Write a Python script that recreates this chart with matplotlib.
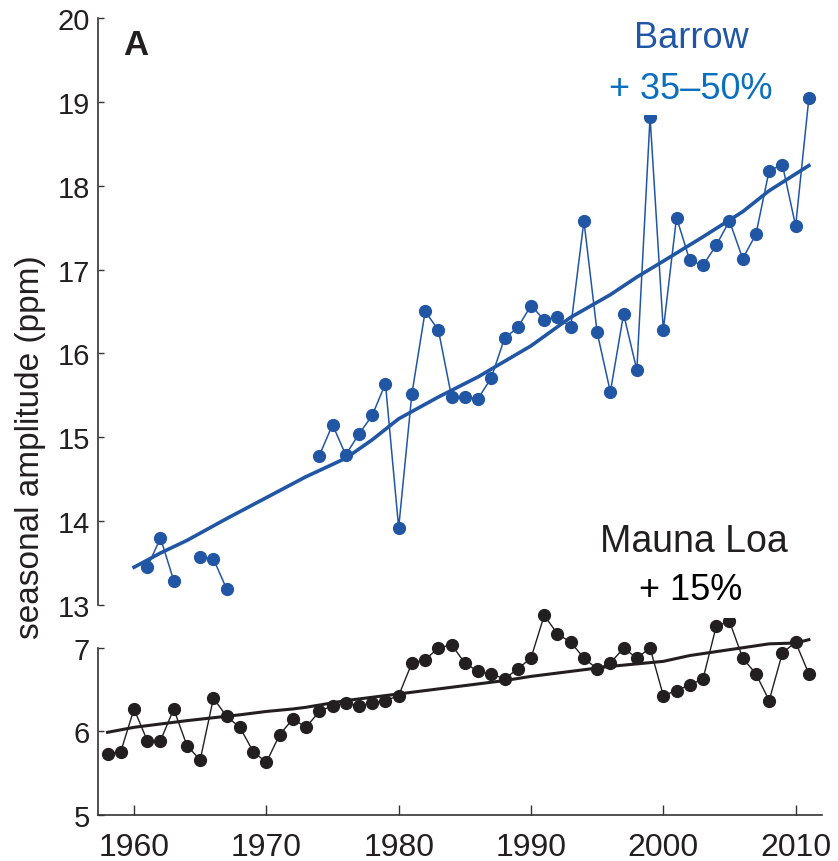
import matplotlib.pyplot as plt
import numpy as np

plt.rcParams['font.family'] = ['Liberation Sans', 'DejaVu Sans']

# Barrow seasonal amplitude (ppm), gaps are missing years
barrow_years = list(range(1961, 2012))
barrow_vals = [13.45, 13.80, 13.29, np.nan, 13.57, 13.55, 13.19,
               np.nan, np.nan, np.nan, np.nan, np.nan, np.nan,
               14.78, 15.15, 14.79, 15.04, 15.26, 15.64, 13.92,
               15.52, 16.50, 16.28, 15.48, 15.48, 15.46, 15.71, 16.18, 16.31, 16.57,
               16.40, 16.44, 16.31, 17.58, 16.25, 15.54, 16.47, 15.80, 18.82, 16.28,
               17.62, 17.11, 17.05, 17.29, 17.58, 17.13, 17.42, 18.18, 18.25, 17.52,
               19.04]
barrow_trend_years = [1960, 1962, 1964, 1967, 1970, 1973, 1976, 1978, 1980, 1983,
                      1986, 1990, 1993, 1996, 1998, 2000, 2003, 2006, 2008, 2011]
barrow_trend = [13.45, 13.62, 13.77, 14.03, 14.28, 14.53, 14.75, 14.97, 15.22, 15.48,
                15.72, 16.09, 16.43, 16.70, 16.91, 17.10, 17.39, 17.69, 17.94, 18.24]

# Mauna Loa seasonal amplitude (ppm)
mlo_years = list(range(1958, 2012))
mlo_vals = [5.73, 5.76, 6.27, 5.89, 5.89, 6.27, 5.83, 5.66, 6.40, 6.18,
            6.05, 5.76, 5.63, 5.96, 6.15, 6.05, 6.24, 6.31, 6.34, 6.31,
            6.34, 6.37, 6.43, 6.82, 6.86, 7.00, 7.04, 6.82, 6.72, 6.69,
            6.63, 6.75, 6.88, 7.39, 7.17, 7.07, 6.88, 6.75, 6.82, 7.00,
            6.88, 7.00, 6.43, 6.49, 6.56, 6.63, 7.26, 7.32, 6.88, 6.69,
            6.37, 6.94, 7.07, 6.69]
mlo_trend_years = [1958, 1960, 1964, 1968, 1970, 1972, 1973, 1976, 1980, 1981,
                   1984, 1988, 1990, 1993, 1996, 2000, 2002, 2005, 2008, 2010, 2011]
mlo_trend = [5.99, 6.05, 6.13, 6.20, 6.24, 6.27, 6.29, 6.37, 6.45, 6.47,
             6.53, 6.61, 6.66, 6.72, 6.78, 6.84, 6.91, 6.98, 7.05, 7.06, 7.10]

blue = '#2156a5'
light_blue = '#0b6fbf'
black = '#231f20'
axcol = '#333333'

fig = plt.figure(figsize=(8.38, 8.62), dpi=100)
ax_top = fig.add_axes([0.117, 0.297, 0.864, 0.681])
ax_bot = fig.add_axes([0.117, 0.0534, 0.864, 0.2421])

xlim = (1957.28, 2012.0)

# upper panel: Barrow
ax_top.plot(barrow_years, barrow_vals, color=blue, lw=1.1, marker='o', ms=8.5,
            mec=blue, mfc=blue, clip_on=False)
ax_top.plot(barrow_trend_years, barrow_trend, color=blue, lw=2.6, clip_on=False)
ax_top.set_xlim(xlim)
ax_top.set_ylim(13, 20)
ax_top.set_yticks(range(13, 21))
for s in ['top', 'right', 'bottom']:
    ax_top.spines[s].set_visible(False)
ax_top.spines['left'].set_color(axcol)
ax_top.spines['left'].set_linewidth(1.2)
ax_top.set_xticks([])
ax_top.tick_params(axis='y', direction='in', length=4, width=1, colors=axcol,
                   labelsize=21, labelcolor=black, pad=6)
ax_top.patch.set_alpha(0)

ax_top.text(1959.17, 19.57, 'A', fontsize=25, fontweight='bold', color=black,
            ha='left', va='baseline')
ax_top.text(2002.1, 19.65, 'Barrow', fontsize=26, color=blue, ha='center', va='baseline')
ax_top.text(2002.1, 19.05, '+ 35\u201350%', fontsize=26, color=light_blue,
            ha='center', va='baseline', zorder=5,
            bbox=dict(boxstyle='square,pad=0.25', fc='white', ec='none'))

# lower panel: Mauna Loa
ax_bot.plot(mlo_years, mlo_vals, color=black, lw=1.0, marker='o', ms=8.5,
            mec=black, mfc=black, clip_on=False)
ax_bot.plot(mlo_trend_years, mlo_trend, color=black, lw=2.2, clip_on=False)
ax_bot.set_xlim(xlim)
ax_bot.set_ylim(5, 7.5)
ax_bot.set_yticks([5, 6, 7])
ax_bot.set_xticks(range(1960, 2011, 10))
for s in ['top', 'right']:
    ax_bot.spines[s].set_visible(False)
ax_bot.spines['left'].set_bounds(5, 7)
for s in ['left', 'bottom']:
    ax_bot.spines[s].set_color(axcol)
    ax_bot.spines[s].set_linewidth(1.2)
ax_bot.tick_params(axis='y', direction='in', length=4, width=1, colors=axcol,
                   labelsize=21, labelcolor=black, pad=6)
ax_bot.tick_params(axis='x', direction='in', length=7, width=1, colors=axcol,
                   labelsize=23, labelcolor=black, pad=12)
ax_bot.patch.set_alpha(0)

ax_bot.text(2002.3, 8.165, 'Mauna Loa', fontsize=27, color=black, ha='center',
            va='baseline', clip_on=False)
ax_bot.text(2002.1, 7.587, '+ 15%', fontsize=26, color='black', ha='center',
            va='baseline', clip_on=False, zorder=5,
            bbox=dict(boxstyle='square,pad=0.3', fc='white', ec='none'))

fig.text(0.036, 0.481, 'seasonal amplitude (ppm)', rotation=90, fontsize=24,
         color=black, ha='center', va='center')

plt.savefig('out.png', dpi=100)
